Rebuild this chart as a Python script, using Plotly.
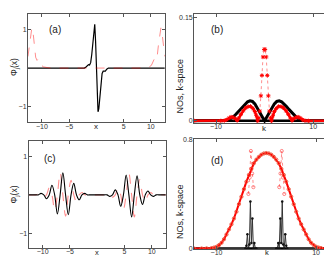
import numpy as np
import plotly.graph_objects as go

W, H = 332, 256

# ---------------- panel (a) ----------------
a_x_black = [-12.57, -2.2, -1.9, -1.65, -1.45, -1.25, -1.05, -0.85, -0.65, -0.45, -0.3, -0.15, 0.0,
             0.15, 0.3, 0.45, 0.65, 0.85, 1.05, 1.25, 1.45, 1.65, 1.9, 2.2, 12.57]
a_y_black = [0, 0, 0.03, 0.08, 0.09, 0.08, 0.14, 0.35, 0.72, 1.05, 1.13, 0.7, 0.0,
             -0.7, -1.13, -1.05, -0.72, -0.35, -0.14, -0.08, -0.09, -0.08, -0.03, 0, 0]
a_x_red = [-12.57, -12.35, -12.1, -11.85, -11.65, -11.4, -11.15, -10.9, -10.65, -10.4, -10.1, -9.7, -9.2, -8.5,
           8.5, 9.2, 9.7, 10.1, 10.4, 10.65, 10.9, 11.15, 11.4, 11.65, 11.85, 12.1, 12.35, 12.57]
a_y_red = [0.3, 0.55, 0.85, 1.04, 0.95, 0.6, 0.28, 0.2, 0.24, 0.15, 0.07, 0.03, 0.01, 0,
           0, 0.01, 0.03, 0.07, 0.15, 0.24, 0.2, 0.28, 0.6, 0.95, 1.04, 0.85, 0.55, 0.3]

# ---------------- panel (b) ----------------
b_k_black = [-14.5, -8.5, -8.0, -7.5, -7.0, -6.5, -6.0, -5.5, -5.0, -4.5, -4.0, -3.5, -3.0, -2.5, -2.0, -1.5,
             -1.0, -0.75, -0.5, -0.25, 0.0, 0.25, 0.5, 0.75, 1.0, 1.5, 2.0, 2.5, 3.0, 3.5, 4.0, 4.5, 5.0,
             5.5, 6.0, 6.5, 7.0, 7.5, 8.0, 8.5, 15.0]
b_v_black = [0, 0, 0.0003, 0.0012, 0.003, 0.0055, 0.0088, 0.0125, 0.0165, 0.0205, 0.0245, 0.0275, 0.029,
             0.028, 0.0245, 0.019, 0.0125, 0.009, 0.006, 0.003, 0.0, 0.003, 0.006, 0.009, 0.0125, 0.019,
             0.0245, 0.028, 0.029, 0.0275, 0.0245, 0.0205, 0.0165, 0.0125, 0.0088, 0.0055, 0.003, 0.0012,
             0.0003, 0, 0]
b_k_red = [-14.5, -9.0, -8.3, -7.8, -7.3, -6.9, -6.5, -6.0, -5.65, -5.3, -4.9, -4.4, -3.9, -3.4, -2.9, -2.4,
           -2.0, -1.7, -1.42, -1.2, -0.99, -0.77, -0.55, -0.33, -0.1,
           0.1, 0.33, 0.55, 0.77, 0.99, 1.2, 1.42, 1.7, 2.0, 2.4, 2.9, 3.4, 3.9, 4.4, 4.9, 5.3, 5.65, 6.0,
           6.5, 6.9, 7.3, 7.8, 8.3, 9.0, 15.0]
b_v_red = [0, 0, 0.0003, 0.0015, 0.004, 0.0055, 0.0052, 0.003, 0.0005, 0.004, 0.0093, 0.0145, 0.0185,
           0.0205, 0.021, 0.018, 0.0135, 0.008, 0.0, 0.004, 0.014, 0.0361, 0.0657, 0.0924, 0.1032,
           0.1032, 0.0924, 0.0657, 0.0361, 0.014, 0.004, 0.0, 0.008, 0.0135, 0.018, 0.021, 0.0205, 0.0185,
           0.0145, 0.0093, 0.004, 0.0005, 0.003, 0.0052, 0.0055, 0.004, 0.0015, 0.0003, 0, 0]

# ---------------- panel (c) ----------------
c_x = [-12.57, -11.3, -10.8, -10.3, -9.8, -9.3, -8.8, -8.3, -7.8, -7.3, -6.8, -6.3, -5.8, -5.3, -4.8, -4.3,
       -3.8, -3.3, -2.8, -2.3, -1.8, -1.3, 0.0, 1.3, 1.8, 2.3, 2.8, 3.3, 3.8, 4.3, 4.8, 5.3, 5.8, 6.3, 6.8,
       7.3, 7.8, 8.3, 8.8, 9.3, 9.8, 10.3, 10.8, 11.3, 12.57]
c_black = [0, 0, 0, 0.04, 0, -0.1, 0, 0.25, 0, -0.5, 0, 0.58, 0, -0.52, 0, 0.3, 0, -0.13, 0, 0.04, 0, 0, 0,
           0, 0, -0.04, 0, 0.13, 0, -0.3, 0, 0.52, 0, -0.58, 0, 0.5, 0, -0.25, 0, 0.1, 0, -0.04, 0, 0, 0]
c_red = [0, 0, 0.02, 0, -0.06, 0, 0.18, 0, -0.4, 0, 0.58, 0, -0.56, 0, 0.38, 0, -0.18, 0, 0.06, 0, -0.01, 0,
         0, 0, 0.01, 0, -0.06, 0, 0.18, 0, -0.38, 0, 0.56, 0, -0.58, 0, 0.4, 0, -0.18, 0, 0.06, 0, -0.02, 0, 0]

# ---------------- panel (d) ----------------
d_k_red = [-14.5, -13, -12, -11, -10.5, -10, -9.5, -9, -8.5, -8, -7.5, -7, -6.5, -6, -5.5, -5, -4.5, -4,
           -3.5, -3.0, -2.5, -2.0, -1.5, -1.0, -0.5, 0,
           0.5, 1.0, 1.5, 2.0, 2.5, 3.0, 3.5, 4, 4.5, 5, 5.5, 6, 6.5, 7, 7.5, 8, 8.5, 9, 9.5, 10, 10.5, 11,
           12, 13, 14.5]
d_v_red = [0, 0, 0.001, 0.003, 0.007, 0.013, 0.025, 0.042, 0.068, 0.103, 0.14, 0.178, 0.22, 0.27, 0.325,
           0.38, 0.435, 0.49, 0.54, 0.585, 0.625, 0.652, 0.672, 0.688, 0.697, 0.70,
           0.697, 0.688, 0.672, 0.652, 0.625, 0.585, 0.54, 0.49, 0.435, 0.38, 0.325, 0.27, 0.22, 0.178,
           0.14, 0.103, 0.068, 0.042, 0.025, 0.013, 0.007, 0.003, 0.001, 0, 0]
d_k_spike = [-3.6, -3.35, -3.1, -2.85, -2.6, None, 2.6, 2.85, 3.1, 3.35, 3.6]
d_v_spike = [0.40, 0.52, 0.715, 0.55, 0.45, None, 0.45, 0.55, 0.715, 0.52, 0.40]
d_k_black = [-14.5, -4.2, -4.0, -3.8, -3.6, -3.4, -3.2, -3.0, -2.8, -2.6, -2.4, -2.2, -2.0,
             2.0, 2.2, 2.4, 2.6, 2.8, 3.0, 3.2, 3.4, 3.6, 3.8, 4.0, 4.2, 14.5]
d_v_black = [0, 0, 0.02, 0.105, 0, 0.03, 0.345, 0.04, 0.22, 0, 0.04, 0, 0,
             0, 0, 0.04, 0, 0.22, 0.04, 0.345, 0.03, 0, 0.105, 0.02, 0, 0]

RED = "#ff0000"
PINK = "rgba(255,0,0,0.45)"
FONT = "Liberation Sans, Arial, sans-serif"

fig = go.Figure()

# (a)
fig.add_trace(go.Scatter(x=a_x_black, y=a_y_black, mode="lines", line=dict(color="black", width=1.2),
                         xaxis="x", yaxis="y"))
fig.add_trace(go.Scatter(x=a_x_red, y=a_y_red, mode="lines", line=dict(color=PINK, width=1, dash="dash"),
                         xaxis="x", yaxis="y"))

# (b)
bk = np.array(b_k_red)
bv = np.array(b_v_red)
fig.add_trace(go.Scatter(x=b_k_black, y=np.zeros(len(b_k_black)), mode="lines",
                         line=dict(color="black", width=2.5), xaxis="x2", yaxis="y2"))
fig.add_trace(go.Scatter(x=b_k_black, y=b_v_black, mode="lines", line=dict(color="black", width=3),
                         xaxis="x2", yaxis="y2"))
fig.add_trace(go.Scatter(x=bk, y=np.where(np.abs(bk) < 1.3, np.nan, bv), mode="lines",
                         line=dict(color=RED, width=2.5), xaxis="x2", yaxis="y2"))
fig.add_trace(go.Scatter(x=bk, y=bv, mode="lines+markers", line=dict(color=PINK, width=1, dash="dot"),
                         marker=dict(symbol="asterisk", size=3.5, line=dict(color=RED, width=1)),
                         xaxis="x2", yaxis="y2"))

# (c)
fig.add_trace(go.Scatter(x=c_x, y=c_red, mode="lines", line=dict(color=PINK, width=1.1, dash="dash", shape="spline"),
                         xaxis="x3", yaxis="y3"))
fig.add_trace(go.Scatter(x=c_x, y=c_black, mode="lines", line=dict(color="black", width=1.1, shape="spline"),
                         xaxis="x3", yaxis="y3"))

# (d)
fig.add_trace(go.Scatter(x=d_k_black, y=np.zeros(len(d_k_black)), mode="lines",
                         line=dict(color="black", width=2.5), xaxis="x4", yaxis="y4"))
fig.add_trace(go.Scatter(x=d_k_black, y=d_v_black, mode="lines+markers", line=dict(color="#333", width=1),
                         marker=dict(symbol="circle", size=2.5, color="#111"), xaxis="x4", yaxis="y4"))
fig.add_trace(go.Scatter(x=d_k_red, y=d_v_red, mode="lines", line=dict(color=RED, width=2),
                         xaxis="x4", yaxis="y4"))
fig.add_trace(go.Scatter(x=d_k_red, y=d_v_red, mode="markers",
                         marker=dict(symbol="circle-open", size=3.2, line=dict(color=RED, width=1)),
                         xaxis="x4", yaxis="y4"))
fig.add_trace(go.Scatter(x=d_k_spike, y=d_v_spike, mode="lines+markers", connectgaps=False,
                         line=dict(color=PINK, width=1, dash="dot"),
                         marker=dict(symbol="circle-open", size=3.2, line=dict(color=RED, width=1)),
                         xaxis="x4", yaxis="y4"))


def px_x(p):
    return p / W


def px_y(p):
    return 1 - p / H


axstyle = dict(showline=True, linecolor="#555", linewidth=1, mirror="ticks", ticks="inside", ticklen=3,
               tickcolor="#555", showgrid=False, zeroline=False,
               tickfont=dict(family=FONT, size=7, color="#333"))

fig.update_layout(
    width=W, height=H, margin=dict(l=0, r=0, t=0, b=0),
    paper_bgcolor="white", plot_bgcolor="white", showlegend=False,
    xaxis=dict(domain=[px_x(20), px_x(157.3)], range=[-12.57, 12.57], tickvals=[-10, -5, 5, 10],
               ticktext=["\u221210", "\u22125", "5", "10"], anchor="y", ticklabelstandoff=-3, **axstyle),
    yaxis=dict(domain=[px_y(113.3), px_y(2)], range=[-1.4, 1.4], tickvals=[-1, 1],
               ticktext=["\u22121", "1"], anchor="x", ticklabelstandoff=-1, **axstyle),
    xaxis2=dict(domain=[px_x(186.7), px_x(331)], range=[-14.5, 15.1], tickvals=[-10, 10],
                ticktext=["\u221210", "10"], anchor="y2", ticklabelstandoff=-3, **axstyle),
    yaxis2=dict(domain=[px_y(114), px_y(2)], range=[-0.003, 0.1546], tickvals=[0, 0.15],
                ticktext=["0", "0.15"], anchor="x2", ticklabelstandoff=-1, **axstyle),
    xaxis3=dict(domain=[px_x(20.7), px_x(158.3)], range=[-12.57, 12.57], tickvals=[-10, -5, 5, 10],
                ticktext=["\u221210", "\u22125", "5", "10"], anchor="y3", ticklabelstandoff=-4, **axstyle),
    yaxis3=dict(domain=[px_y(243), px_y(133)], range=[-1.4, 1.4], tickvals=[-1, 1],
                ticktext=["\u22121", "1"], anchor="x3", ticklabelstandoff=-1, **axstyle),
    xaxis4=dict(domain=[px_x(186.7), px_x(331.5)], range=[-14.5, 14.5], tickvals=[-10, 10],
                ticktext=["\u221210", "10"], anchor="y4", ticklabelstandoff=-4, **axstyle),
    yaxis4=dict(domain=[px_y(244), px_y(131)], range=[-0.006, 0.8], tickvals=[0, 0.8],
                ticktext=["0", "0.8"], anchor="x4", ticklabelstandoff=-1, **axstyle),
)

ann = []


def add_text(t, x, y, size=9, angle=0, pad=1):
    ann.append(dict(text=t, x=px_x(x), y=px_y(y), xref="paper", yref="paper", showarrow=False,
                    xanchor="center", yanchor="middle", textangle=angle, borderpad=pad,
                    font=dict(family=FONT, size=size, color="#222")))


add_text("(a)", 46.7, 18.3, 10)
add_text("(b)", 209.3, 18.3, 10)
add_text("(c)", 41.7, 150.7, 10)
add_text("(d)", 209.3, 153, 10)
add_text("x", 88.5, 117.5, 8)
add_text("x", 89.3, 247.5, 7.5, 0, 0)
add_text("k", 257.7, 119.5, 8)
add_text("k", 259.3, 247.5, 7.5, 0, 0)
add_text("\u03a6<sub>j</sub>(x)", 6.7, 57, 8.5, -90)
add_text("\u03a6<sub>j</sub>(x)", 6.7, 188, 8.5, -90)
add_text("NOs, k-space", 172.5, 75.5, 9, -90)
add_text("NOs, k-space", 172.5, 204.5, 9, -90)
fig.update_layout(annotations=ann)

fig.write_html("out.html")
